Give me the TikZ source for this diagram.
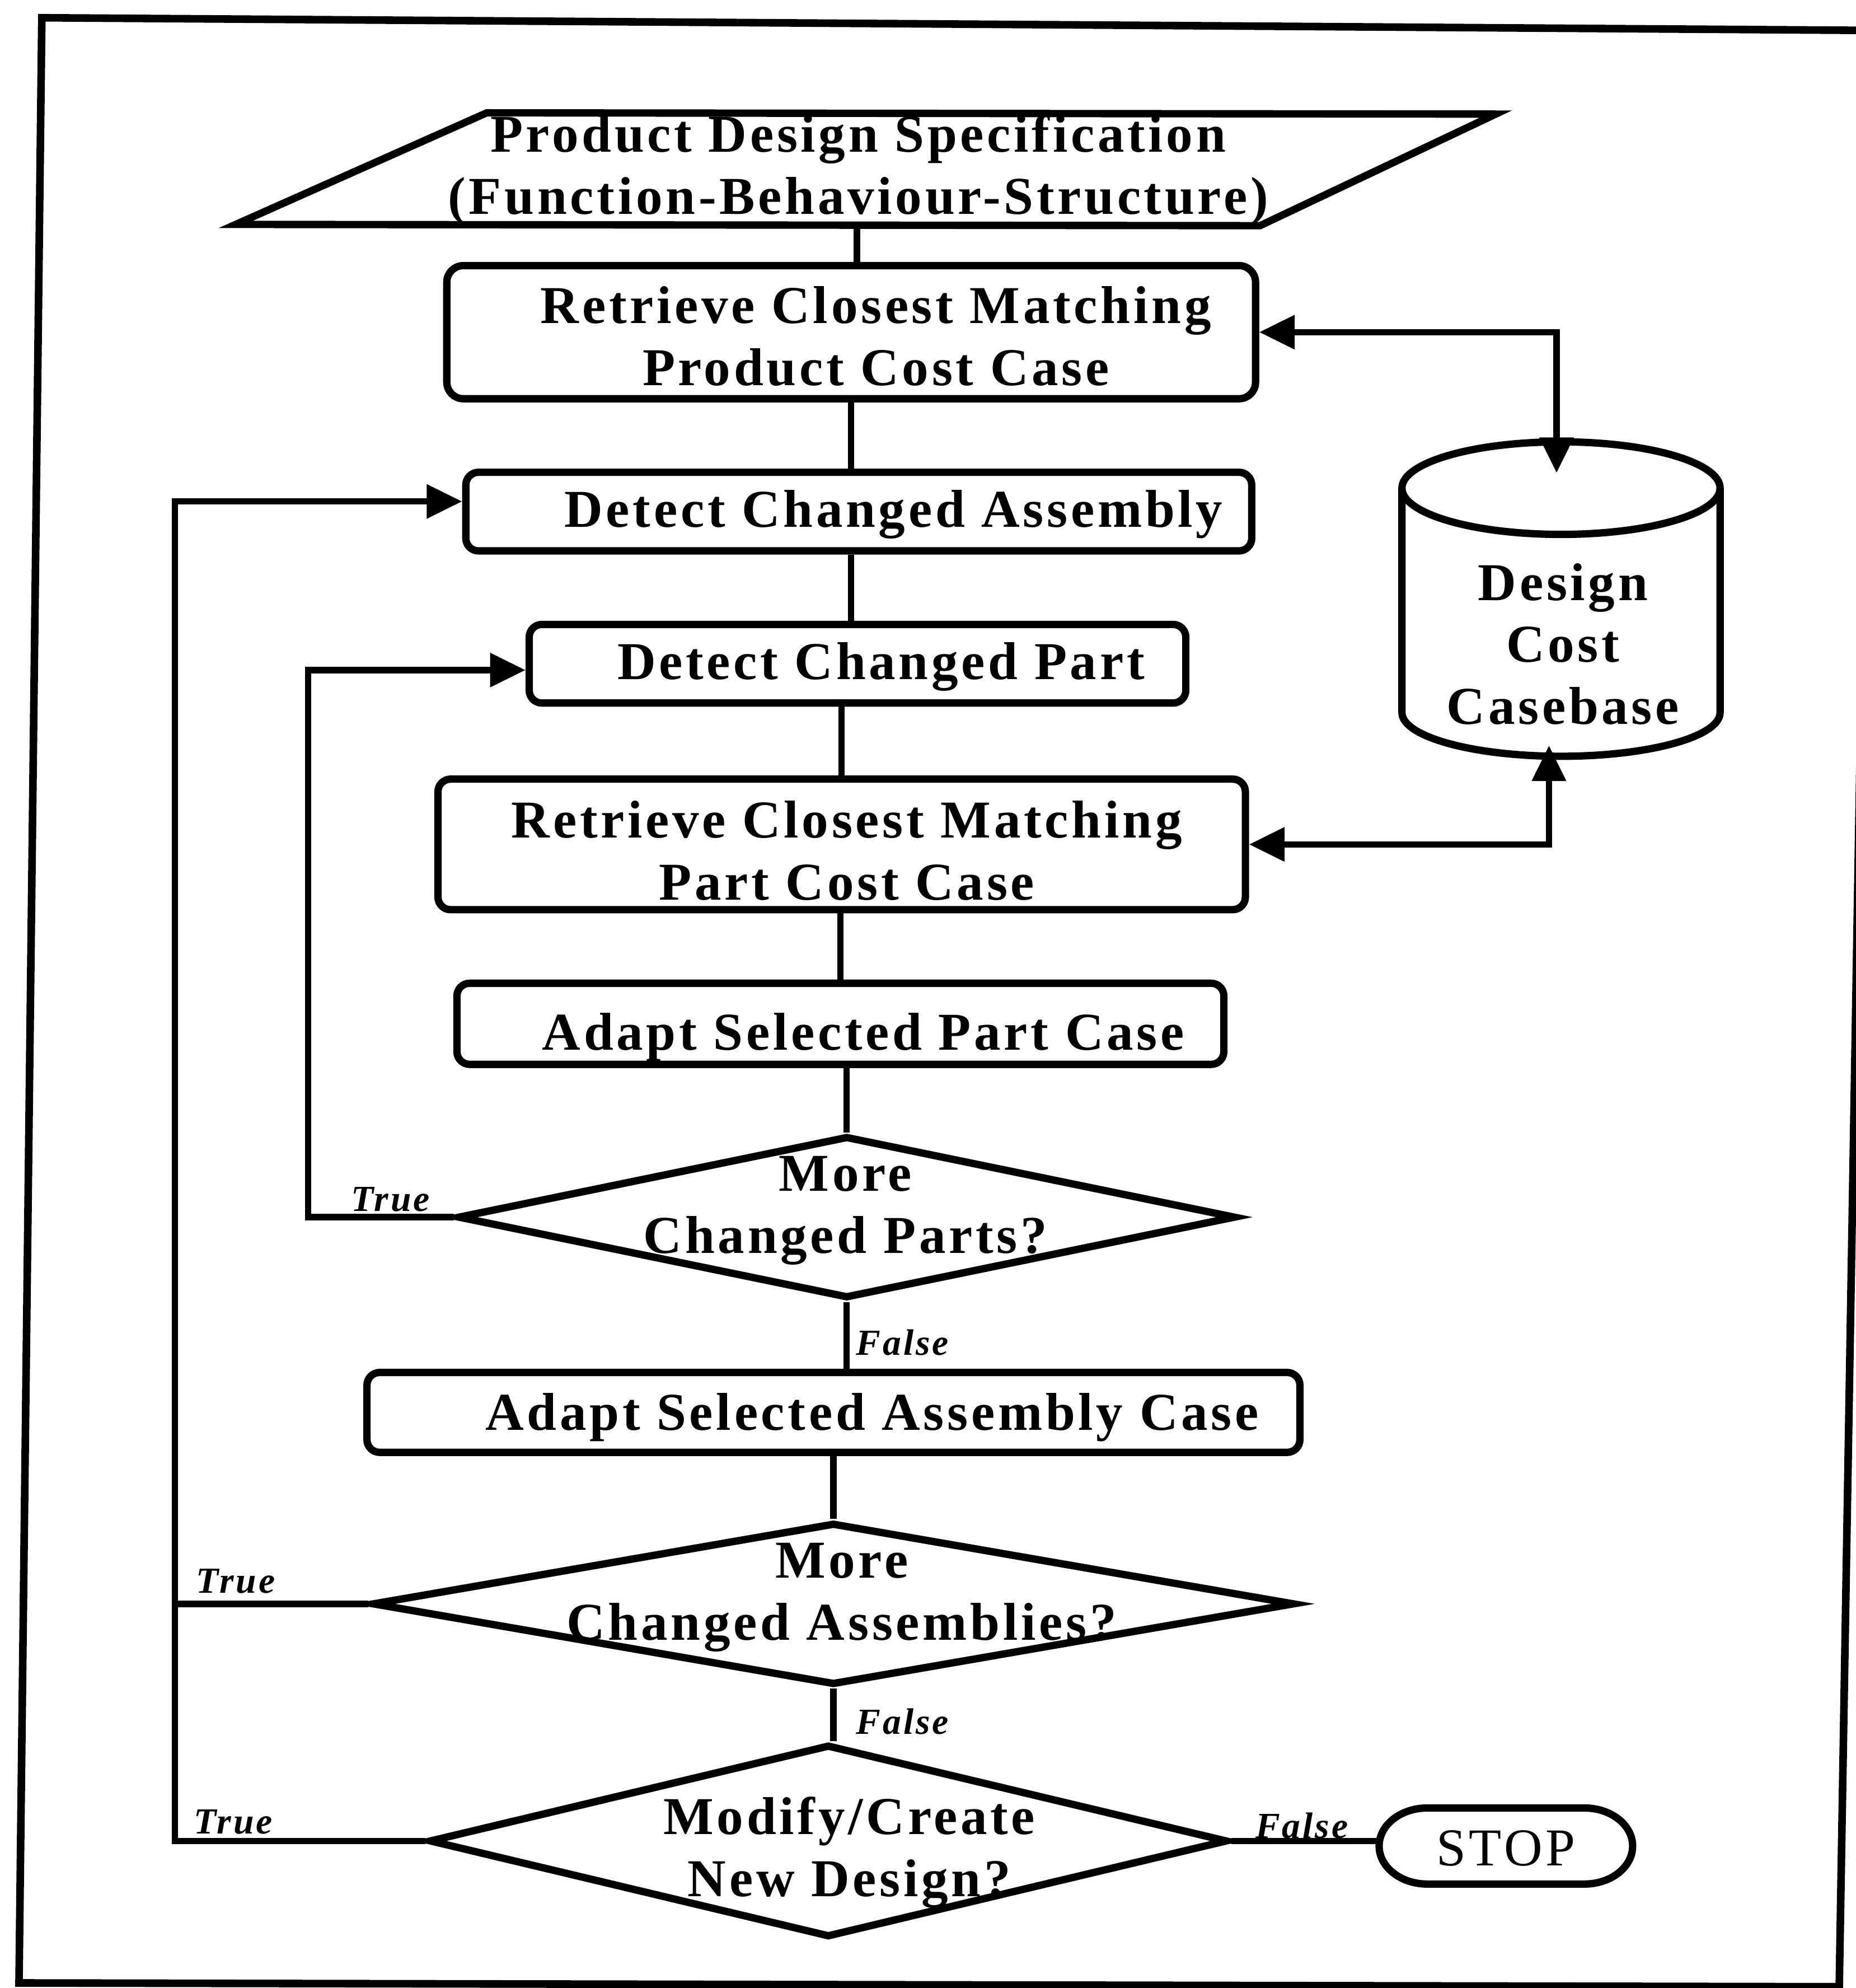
\documentclass[tikz,border=0pt]{standalone}
\usepackage{fontspec}
\setmainfont{Liberation Serif}[LetterSpace=6]
\usetikzlibrary{arrows.meta,shapes.geometric}
\begin{document}
\begin{tikzpicture}[x=1pt,y=-1pt,
  shapeline/.style={line width=5.8pt},
  procbox/.style={shapeline, draw, rectangle, rounded corners=10pt, inner sep=0pt},
  decision/.style={shapeline, draw, diamond, inner sep=0pt},
  caption/.style={font=\bfseries\fontsize{42}{49}\selectfont, align=center, inner sep=0pt},
  flag/.style={font=\bfseries\itshape\fontsize{29}{30}\selectfont, inner sep=0pt},
  link/.style={line width=5pt},
  tip/.style={-{Triangle[length=28pt,width=26pt]}},
  twotips/.style={{Triangle[length=28pt,width=26pt]}-{Triangle[length=28pt,width=26pt]}},
]
\useasboundingbox (0,0) rectangle (1464,1568);

% outer frame
\draw[line width=6pt] (33,14) -- (1477,24) -- (1451,1567) -- (15,1564) -- cycle;

% input: product design specification
\draw[shapeline] (384,89) -- (1180,90) -- (994,178) -- (186,177) -- cycle;
\node[caption] (spec) at (677,134) {Product Design Specification\\(Function-Behaviour-Structure)};
\coordinate (specfoot) at (676,178);

% process boxes
\node[procbox, rounded corners=13pt, minimum width=638pt, minimum height=105pt] (box1) at (671.5,262) {};
\node[procbox, minimum width=620pt, minimum height=62pt] (box2) at (677.5,403.5) {};
\node[procbox, minimum width=518pt, minimum height=62pt] (box3) at (676.5,523.5) {};
\node[procbox, minimum width=637pt, minimum height=103pt] (box4) at (664,666) {};
\node[procbox, minimum width=605pt, minimum height=64pt] (box5) at (663,807.5) {};
\node[procbox, minimum width=736pt, minimum height=63pt] (box6) at (657.5,1114) {};

\node[caption] (cap1) at (691,265) {Retrieve Closest Matching\\Product Cost Case};
\node[caption] (cap2) at (705,406) {Detect Changed Assembly};
\node[caption] (cap3) at (695,526) {Detect Changed Part};
\node[caption] (cap4) at (668,671) {Retrieve Closest Matching\\Part Cost Case};
\node[caption] (cap5) at (681,818) {Adapt Selected Part Case};
\node[caption] (cap6) at (688,1118) {Adapt Selected Assembly Case};

% decisions
\node[decision, minimum width=614pt, minimum height=128pt] (d1) at (668,960) {};
\node[decision, minimum width=728pt, minimum height=128pt] (d2) at (657.5,1265) {};
\node[decision, minimum width=630pt, minimum height=152pt] (d3) at (653.5,1452) {};

\node[caption] (q1) at (667,955) {More\\Changed Parts?};
\node[caption] (q2) at (664,1260) {More\\Changed Assemblies?};
\node[caption] (q3) at (670,1461) {Modify/Create\\New Design?};

% casebase store
\draw[shapeline] (1231.5,385) ellipse [x radius=125.5, y radius=36.5];
\draw[shapeline] (1106,385) -- (1106,562)
  arc[start angle=180, end angle=0, x radius=125.5, y radius=34.5] -- (1357,385);
\node[caption] (casebase) at (1233,508) {Design\\Cost\\Casebase};
\coordinate (cbtop) at (1228,373);
\coordinate (cbfoot) at (1222,588);

% terminator
\draw[shapeline] (1126,1426) -- (1250,1426)
  arc[start angle=-90, end angle=90, x radius=38, y radius=30]
  -- (1126,1486)
  arc[start angle=90, end angle=270, x radius=38, y radius=30] -- cycle;
\node[font=\fontsize{42}{49}\selectfont, inner sep=0pt, minimum width=200pt, minimum height=60pt] (stop) at (1188,1458) {STOP};

% main flow
\draw[link] (specfoot) -- (specfoot |- box1.north);
\draw[link] (box1.south) -- (box1.south |- box2.north);
\draw[link] (box2.south -| box1.south) -- (box3.north -| box1.south);
\draw[link] (box4.north) -- (box4.north |- box3.south);
\draw[link] (box5.north) -- (box5.north |- box4.south);
\draw[link] (d1.north) -- (d1.north |- box5.south);
\draw[link] (d1.south) -- (d1.south |- box6.north);
\draw[link] (d2.north) -- (d2.north |- box6.south);
\draw[link] (d2.south) -- (d2.south |- d3.north);
\draw[link] (d3.east) -- (d3.east -| stop.west);

% casebase exchanges
\draw[link, twotips] (box1.east) -| (cbtop);
\draw[link, twotips] (box4.east) -| (cbfoot);

% loops back
\coordinate (railA) at (138,800);
\coordinate (railB) at (243,700);
\draw[link, tip] (d3.west) -| (railA) |- ([yshift=8pt]box2.west);
\draw[link] (d2.west) -- (d2.west -| railA);
\draw[link, tip] (d1.west) -| (railB) |- ([yshift=-5pt]box3.west);

% branch labels
\node[flag] (t1) at (308,946) {True};
\node[flag] (t2) at (186,1247) {True};
\node[flag] (t3) at (184,1437) {True};
\node[flag] (f1) at (712,1059) {False};
\node[flag] (f2) at (712,1358) {False};
\node[flag] (f3) at (1027,1440) {False};
\end{tikzpicture}
\end{document}
